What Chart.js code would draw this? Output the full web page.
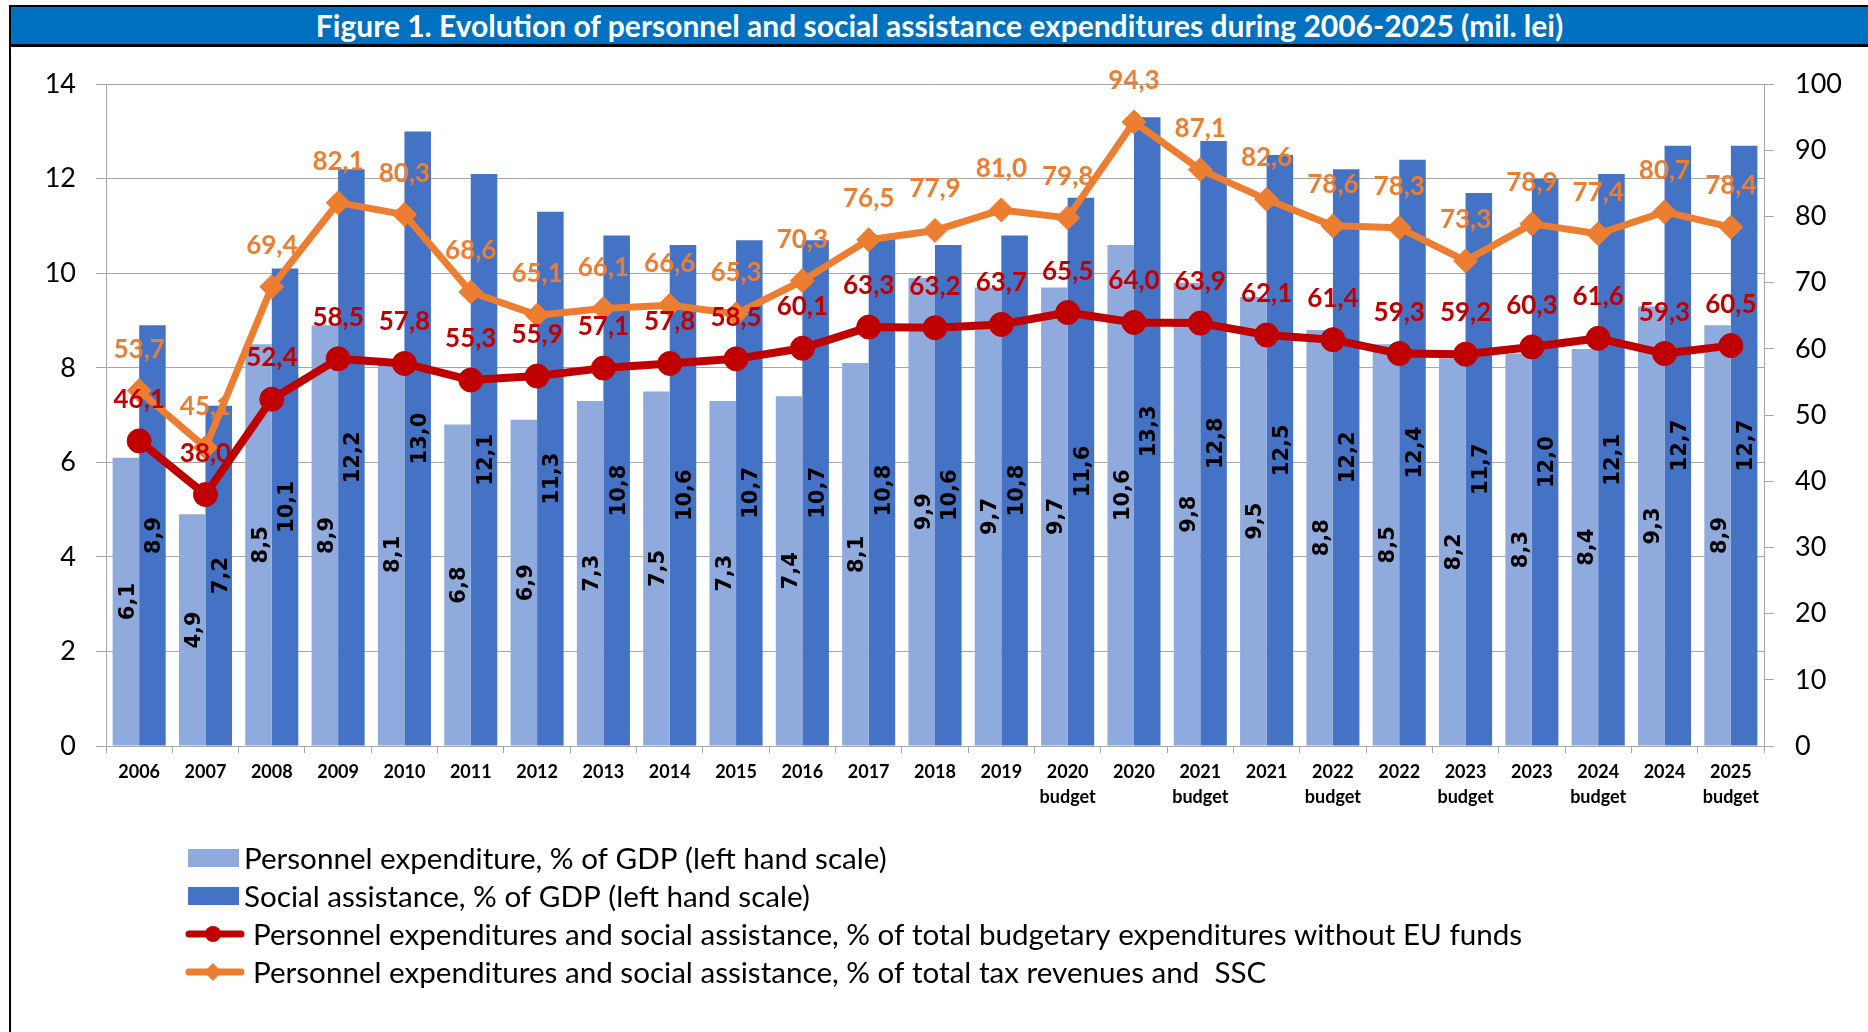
<!DOCTYPE html>
<html>
<head>
<meta charset="utf-8">
<title>Figure 1</title>
<script src="https://cdn.jsdelivr.net/npm/chart.js@4.4.1/dist/chart.umd.min.js"></script>
<style>
    html, body { margin: 0; padding: 0; background: #fff; }
    body { width: 1868px; height: 1032px; position: relative; overflow: hidden; }
    .frame-top { position: absolute; left: 9px; right: 0; top: 5px; height: 2px; background: #000; }
    .frame-left { position: absolute; left: 9px; top: 5px; bottom: 0; width: 2px; background: #000; }
    .title-band {
        position: absolute; left: 11px; right: 0; top: 7px; height: 37px;
        background: #0070c0; color: #fff; text-align: center; line-height: 37px;
        font: bold 30px Lato, "DejaVu Sans", sans-serif; white-space: nowrap;
    }
    .title-rule { position: absolute; left: 11px; right: 0; top: 44px; height: 3px; background: #000; }
    #chart { position: absolute; left: 11px; top: 47px; }
</style>
</head>
<body>
<div class="frame-top"></div>
<div class="frame-left"></div>
<div class="title-band">Figure 1. Evolution of personnel and social assistance expenditures during 2006-2025 (mil. lei)</div>
<div class="title-rule"></div>
<canvas id="chart" width="1857" height="985"></canvas>

<script>
// categories (x axis)
const categories = [
    '2006', '2007', '2008', '2009', '2010', '2011', '2012', '2013', '2014', '2015',
    '2016', '2017', '2018', '2019',
    ['2020', 'budget'], '2020', ['2021', 'budget'], '2021', ['2022', 'budget'], '2022',
    ['2023', 'budget'], '2023', ['2024', 'budget'], '2024', ['2025', 'budget']
];

// % of GDP (left hand scale)
const personnelGdp = [6.1, 4.9, 8.5, 8.9, 8.1, 6.8, 6.9, 7.3, 7.5, 7.3, 7.4, 8.1, 9.9, 9.7, 9.7, 10.6, 9.8, 9.5, 8.8, 8.5, 8.2, 8.3, 8.4, 9.3, 8.9];
const socialGdp = [8.9, 7.2, 10.1, 12.2, 13.0, 12.1, 11.3, 10.8, 10.6, 10.7, 10.7, 10.8, 10.6, 10.8, 11.6, 13.3, 12.8, 12.5, 12.2, 12.4, 11.7, 12.0, 12.1, 12.7, 12.7];

// % shares (right hand scale)
const shareBudgetExp = [46.1, 38.0, 52.4, 58.5, 57.8, 55.3, 55.9, 57.1, 57.8, 58.5, 60.1, 63.3, 63.2, 63.7, 65.5, 64.0, 63.9, 62.1, 61.4, 59.3, 59.2, 60.3, 61.6, 59.3, 60.5];
const shareTaxRev = [53.7, 45.1, 69.4, 82.1, 80.3, 68.6, 65.1, 66.1, 66.6, 65.3, 70.3, 76.5, 77.9, 81.0, 79.8, 94.3, 87.1, 82.6, 78.6, 78.3, 73.3, 78.9, 77.4, 80.7, 78.4];

// axis ranges
const leftAxis = { min: 0, max: 14, step: 2 };
const rightAxis = { min: 0, max: 100, step: 10 };

const seriesNames = [
    'Personnel expenditure, % of GDP (left hand scale)',
    'Social assistance, % of GDP (left hand scale)',
    'Personnel expenditures and social assistance, % of total budgetary expenditures without EU funds',
    'Personnel expenditures and social assistance, % of total tax revenues and  SSC'
];

const LIGHT = '#8faadc';
const DARK = '#4472c4';
const RED = '#c00000';
const ORANGE = '#ed7d31';
const GRID = '#a6a6a6';
const FONT = 'Lato, "DejaVu Sans", sans-serif';

const fmt = v => v.toFixed(1).replace('.', ',');

// data labels: bars rotated in the middle, line values above the points
const valueLabels = {
    id: 'valueLabels',
    afterDatasetsDraw(chart) {
        const ctx = chart.ctx;
        ctx.save();
        chart.data.datasets.forEach((ds, i) => {
            const meta = chart.getDatasetMeta(i);
            if (meta.type !== 'bar') return;
            ctx.font = 'bold 21px "DejaVu Sans", sans-serif';
            ctx.fillStyle = '#000';
            ctx.textAlign = 'center';
            ctx.textBaseline = 'alphabetic';
            meta.data.forEach((el, j) => {
                const cy = (el.y + el.base) / 2;
                ctx.save();
                ctx.translate(el.x, cy);
                ctx.rotate(-Math.PI / 2);
                ctx.fillText(fmt(ds.data[j]), 0, 8);
                ctx.restore();
            });
        });
        chart.data.datasets.forEach((ds, i) => {
            const meta = chart.getDatasetMeta(i);
            if (meta.type !== 'line') return;
            ctx.font = 'bold 26px ' + FONT;
            ctx.fillStyle = ds.borderColor;
            ctx.textAlign = 'center';
            ctx.textBaseline = 'alphabetic';
            meta.data.forEach((el, j) => {
                ctx.fillText(fmt(ds.data[j]), el.x, el.y - 33);
            });
        });
        ctx.restore();
    }
};

// legend, one item per row under the plot
const stackedLegend = {
    id: 'stackedLegend',
    afterDraw(chart) {
        const ctx = chart.ctx;
        const x0 = 177;
        const y0 = 811;
        const gap = 38;
        ctx.save();
        ctx.font = '29.6px ' + FONT;
        ctx.textBaseline = 'middle';
        ctx.textAlign = 'left';
        seriesNames.forEach((name, i) => {
            const yc = y0 + i * gap;
            if (i < 2) {
                ctx.fillStyle = i === 0 ? LIGHT : DARK;
                ctx.fillRect(x0, yc - 9, 51, 18);
                ctx.fillStyle = '#000';
                ctx.fillText(name, x0 + 56, yc + 1);
            } else {
                const col = i === 2 ? RED : ORANGE;
                ctx.strokeStyle = col;
                ctx.fillStyle = col;
                ctx.lineWidth = 7;
                ctx.lineCap = 'round';
                ctx.beginPath();
                ctx.moveTo(x0 + 1, yc);
                ctx.lineTo(x0 + 53, yc);
                ctx.stroke();
                ctx.beginPath();
                if (i === 2) {
                    ctx.arc(x0 + 25, yc, 8, 0, Math.PI * 2);
                } else {
                    ctx.moveTo(x0 + 25, yc - 9);
                    ctx.lineTo(x0 + 34, yc);
                    ctx.lineTo(x0 + 25, yc + 9);
                    ctx.lineTo(x0 + 16, yc);
                    ctx.closePath();
                }
                ctx.fill();
                ctx.fillStyle = '#000';
                ctx.fillText(name, x0 + 65, yc + 1);
            }
        });
        ctx.restore();
    }
};

Chart.defaults.font.family = FONT;
Chart.defaults.color = '#000';

new Chart(document.getElementById('chart'), {
    type: 'bar',
    data: {
        labels: categories,
        datasets: [
            {
                type: 'line',
                label: seriesNames[2],
                data: shareBudgetExp,
                yAxisID: 'y2',
                borderColor: RED,
                backgroundColor: RED,
                borderWidth: 8,
                borderJoinStyle: 'round',
                pointStyle: 'circle',
                pointRadius: 12,
                pointBorderWidth: 1,
                pointBackgroundColor: RED,
                pointBorderColor: RED,
                tension: 0,
                fill: false,
                order: 0
            },
            {
                type: 'line',
                label: seriesNames[3],
                data: shareTaxRev,
                yAxisID: 'y2',
                borderColor: ORANGE,
                backgroundColor: ORANGE,
                borderWidth: 7,
                borderJoinStyle: 'round',
                pointStyle: 'rectRot',
                pointRadius: 12,
                pointBorderWidth: 1,
                pointBackgroundColor: ORANGE,
                pointBorderColor: ORANGE,
                tension: 0,
                fill: false,
                order: 1
            },
            {
                label: seriesNames[0],
                data: personnelGdp,
                yAxisID: 'y',
                backgroundColor: LIGHT,
                categoryPercentage: 0.8,
                barPercentage: 1.0,
                order: 2
            },
            {
                label: seriesNames[1],
                data: socialGdp,
                yAxisID: 'y',
                backgroundColor: DARK,
                categoryPercentage: 0.8,
                barPercentage: 1.0,
                order: 3
            }
        ]
    },
    options: {
        responsive: false,
        animation: false,
        layout: {
            padding: { top: 37, bottom: 226, left: 0, right: 0 }
        },
        plugins: {
            legend: { display: false },
            tooltip: { enabled: false },
            title: { display: false }
        },
        scales: {
            x: {
                grid: {
                    offset: true,
                    drawOnChartArea: false,
                    color: GRID,
                    tickLength: 7
                },
                border: { color: GRID },
                ticks: {
                    autoSkip: false,
                    maxRotation: 0,
                    minRotation: 0,
                    padding: 7,
                    color: '#000',
                    font: { size: 18, weight: 'bold', lineHeight: 1.39 }
                },
                afterFit: scale => { scale.height = 60; }
            },
            y: {
                position: 'left',
                min: leftAxis.min,
                max: leftAxis.max,
                grid: { color: GRID, tickLength: 10 },
                border: { color: GRID },
                ticks: {
                    stepSize: leftAxis.step,
                    padding: 20,
                    color: '#000',
                    font: { size: 27 }
                },
                afterFit: scale => { scale.width = 95; }
            },
            y2: {
                position: 'right',
                min: rightAxis.min,
                max: rightAxis.max,
                grid: { drawOnChartArea: false, color: GRID, tickLength: 10 },
                border: { color: GRID },
                ticks: {
                    stepSize: rightAxis.step,
                    padding: 21,
                    color: '#000',
                    font: { size: 27 }
                },
                afterFit: scale => { scale.width = 104; }
            }
        }
    },
    plugins: [valueLabels, stackedLegend]
});
</script>
</body>
</html>
